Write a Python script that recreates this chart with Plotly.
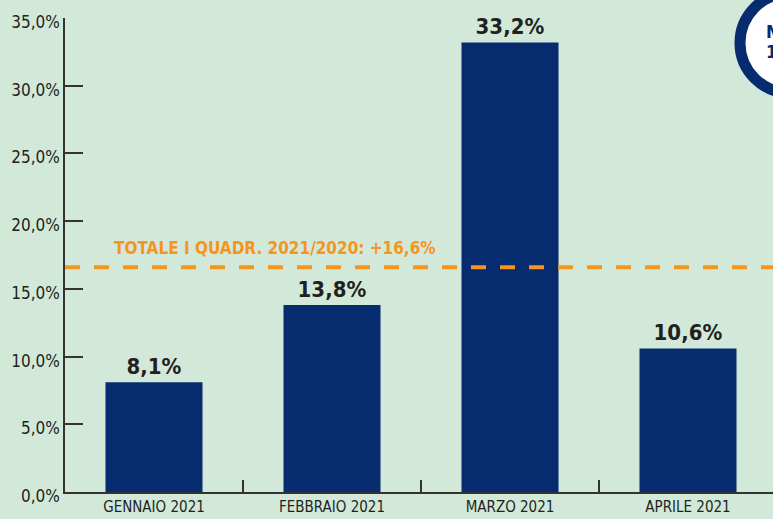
import plotly.graph_objects as go

categories = ["GENNAIO 2021", "FEBBRAIO 2021", "MARZO 2021", "APRILE 2021"]
values = [8.1, 13.8, 33.2, 10.6]
value_labels = ["8,1%", "13,8%", "33,2%", "10,6%"]
tick_vals = [0, 5, 10, 15, 20, 25, 30, 35]
tick_text = ["0,0%", "5,0%", "10,0%", "15,0%", "20,0%", "25,0%", "30,0%", "35,0%"]
total_value = 16.6
total_label = "TOTALE I QUADR. 2021/2020: +16,6%"

W, H = 773, 519
ML, MR, MT, MB = 65, 0, 18, 27
PW, PH = W - ML - MR, H - MT - MB

def px_x(p):
    return (p - ML) / PW

def px_y(p):
    return (H - MB - p) / PH

FONT = "DejaVu Sans Condensed, Liberation Sans Narrow, sans-serif"
BG = "#d2e9d9"
NAVY = "#062b6e"
ORANGE = "#f7941d"
DARK = "#231f20"

fig = go.Figure()
fig.add_trace(go.Bar(
    x=categories, y=values, width=0.545,
    marker=dict(color=NAVY, line=dict(width=0)),
    text=["<b>" + t + "</b>" for t in value_labels], textposition="outside",
    textfont=dict(family=FONT, size=22, color=DARK),
    cliponaxis=False, hoverinfo="skip",
))

fig.add_shape(type="line", xref="paper", yref="y", x0=0, x1=1,
              y0=total_value, y1=total_value,
              line=dict(color=ORANGE, width=4, dash="15px,14px"))
fig.add_annotation(text="<b>" + total_label + "</b>", xref="paper", yref="y",
                   x=px_x(112), y=total_value, yshift=19, xanchor="left", yanchor="middle",
                   showarrow=False, font=dict(family=FONT, size=17, color=ORANGE))

# badge circle at top right (partially cut off)
cx, cy, r = 790, 43, 50
fig.add_shape(type="circle", xref="paper", yref="paper",
              x0=px_x(cx - r), x1=px_x(cx + r), y0=px_y(cy + r), y1=px_y(cy - r),
              fillcolor="white", line=dict(color=NAVY, width=11), layer="above")
fig.add_annotation(text="<b>M</b>", xref="paper", yref="paper", x=px_x(764), y=px_y(31),
                   xanchor="left", yanchor="middle", showarrow=False,
                   font=dict(family=FONT, size=18, color=NAVY))
fig.add_annotation(text="<b>1</b>", xref="paper", yref="paper", x=px_x(764), y=px_y(51),
                   xanchor="left", yanchor="middle", showarrow=False,
                   font=dict(family=FONT, size=18, color=NAVY))

fig.update_layout(
    width=W, height=H,
    margin=dict(l=ML, r=MR, t=MT, b=MB),
    paper_bgcolor=BG, plot_bgcolor=BG,
    showlegend=False,
    font=dict(family=FONT, color=DARK),
)
fig.update_xaxes(
    range=[-0.5, -0.5 + PW / 178.0],
    showgrid=False, zeroline=False,
    showline=True, linecolor="#333333", linewidth=1.5,
    ticks="inside", tickson="boundaries", ticklen=12, tickcolor="#333333", tickwidth=1.5,
    tickfont=dict(family=FONT, size=15, color=DARK),
)
fig.update_yaxes(
    range=[0, 35], showgrid=False, zeroline=False,
    showline=True, linecolor="#333333", linewidth=1.5,
    ticks="inside", ticklen=18, tickcolor="#333333", tickwidth=1.5,
    tickvals=tick_vals, ticktext=tick_text, ticklabelshift=4,
    tickfont=dict(family=FONT, size=17, color=DARK),
)

fig.write_html(
    "out.html",
    config={"displayModeBar": False},
    post_script="document.body.style.margin='0';document.body.style.overflow='hidden';",
)
